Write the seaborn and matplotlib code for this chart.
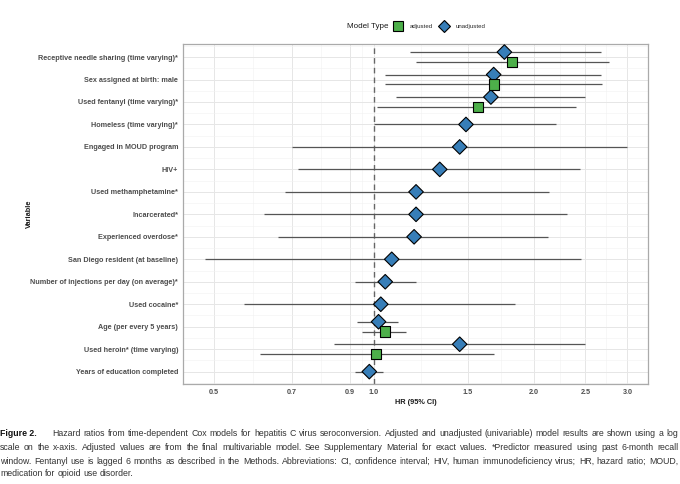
import pandas as pd
import matplotlib.pyplot as plt
import seaborn as sns
import numpy as np
from matplotlib.lines import Line2D

# Variables, top to bottom
variables = [
    "Receptive needle sharing (time varying)*",
    "Sex assigned at birth: male",
    "Used fentanyl (time varying)*",
    "Homeless (time varying)*",
    "Engaged in MOUD program",
    "HIV+",
    "Used methamphetamine*",
    "Incarcerated*",
    "Experienced overdose*",
    "San Diego resident (at baseline)",
    "Number of injections per day (on average)*",
    "Used cocaine*",
    "Age (per every 5 years)",
    "Used heroin* (time varying)",
    "Years of education completed",
]

# Unadjusted (univariable) hazard ratios and 95% CI
unadj_hr = [1.76, 1.68, 1.66, 1.49, 1.45, 1.33, 1.20, 1.20, 1.19, 1.08, 1.05, 1.03, 1.02, 1.45, 0.98]
unadj_lo = [1.17, 1.05, 1.10, 1.00, 0.70, 0.72, 0.68, 0.62, 0.66, 0.48, 0.92, 0.57, 0.93, 0.84, 0.92]
unadj_hi = [2.67, 2.68, 2.50, 2.20, 3.00, 2.44, 2.14, 2.31, 2.13, 2.45, 1.20, 1.84, 1.11, 2.50, 1.04]

# Adjusted (final multivariable model)
adj_vars = [
    "Receptive needle sharing (time varying)*",
    "Sex assigned at birth: male",
    "Used fentanyl (time varying)*",
    "Age (per every 5 years)",
    "Used heroin* (time varying)",
]
adj_hr = [1.82, 1.68, 1.57, 1.05, 1.01]
adj_lo = [1.20, 1.05, 1.015, 0.95, 0.61]
adj_hi = [2.77, 2.69, 2.40, 1.15, 1.68]

x_ticks = [0.5, 0.7, 0.9, 1.0, 1.5, 2.0, 2.5, 3.0]
x_ticklabels = ["0.5", "0.7", "0.9", "1.0", "1.5", "2.0", "2.5", "3.0"]

caption_lines = [
    "Hazard ratios from time-dependent Cox models for hepatitis C virus seroconversion. Adjusted and unadjusted (univariable) model results are shown using a log",
    "scale on the x-axis. Adjusted values are from the final multivariable model. See Supplementary Material for exact values. *Predictor measured using past 6-month recall",
    "window. Fentanyl use is lagged 6 months as described in the Methods. Abbreviations: CI, confidence interval; HIV, human immunodeficiency virus; HR, hazard ratio; MOUD,",
    "medication for opioid use disorder.",
]

# Long table
df = pd.concat([
    pd.DataFrame({"variable": variables, "model": "unadjusted",
                  "hr": unadj_hr, "lo": unadj_lo, "hi": unadj_hi}),
    pd.DataFrame({"variable": adj_vars, "model": "adjusted",
                  "hr": adj_hr, "lo": adj_lo, "hi": adj_hi}),
], ignore_index=True)

# dodge rows that have both models
row = {v: i for i, v in enumerate(variables)}
both = set(adj_vars)
def ypos(r):
    base = row[r["variable"]]
    if r["variable"] not in both:
        return base
    return base - 0.22 if r["model"] == "unadjusted" else base + 0.22
df["y"] = df.apply(ypos, axis=1)

sns.set_style("white")
plt.rcParams["font.family"] = ["Liberation Sans", "DejaVu Sans"]

colors = {"adjusted": "#4DAF4A", "unadjusted": "#377EB8"}
markers = {"adjusted": "s", "unadjusted": "D"}

fig = plt.figure(figsize=(6.8, 4.84), dpi=100)
ax = fig.add_axes([183 / 680, 1 - 384 / 484, 465 / 680, 340 / 484])

# grid
ax.set_xscale("log")
ax.set_xlim(0.437, 3.28)
ax.set_ylim(14.55, -0.58)
minor_x = [np.sqrt(a * b) for a, b in zip(x_ticks[:-1], x_ticks[1:])]
for v in x_ticks:
    ax.axvline(v, color="#E6E6E6", lw=0.7, zorder=0)
for v in minor_x:
    ax.axvline(v, color="#F1F1F1", lw=0.4, zorder=0)
for i in range(len(variables)):
    ax.axhline(i, color="#E6E6E6", lw=0.7, zorder=0)
for i in range(len(variables) + 1):
    ax.axhline(i - 0.5, color="#F1F1F1", lw=0.4, zorder=0)

ax.axvline(1.0, color="#666666", lw=1.0, ls=(0, (4, 3)), zorder=1)

# CI lines
ax.hlines(df["y"], df["lo"], df["hi"], color="#555555", lw=0.9, zorder=2)

# points
sns.scatterplot(data=df, x="hr", y="y", hue="model", style="model",
                palette=colors, markers=markers, s=55,
                edgecolor="black", linewidth=0.8, zorder=3,
                legend=False, ax=ax)

ax.set_xticks(x_ticks)
ax.set_xticklabels(x_ticklabels)
ax.xaxis.set_minor_locator(plt.NullLocator())
ax.set_yticks(range(len(variables)))
ax.set_yticklabels(variables)
ax.tick_params(axis="both", length=2, width=0.6, color="#333333",
               labelsize=5.2, labelcolor="#4D4D4D", pad=1.5)
for lab in ax.get_xticklabels() + ax.get_yticklabels():
    lab.set_fontweight("bold")

ax.set_xlabel("HR (95% CI)", fontsize=5.3, fontweight="bold", color="#1A1A1A", labelpad=2.5)
ax.set_ylabel("Variable", fontsize=5.3, fontweight="bold", color="#1A1A1A")
ax.yaxis.set_label_coords(-(183 - 33) / 465, 0.5)

for s in ax.spines.values():
    s.set_color("#AAAAAA")
    s.set_linewidth(0.9)

# legend on top
yl = 1 - 26 / 484
fig.text(347 / 680, yl, "Model Type", fontsize=5.8, color="#1A1A1A", va="center", ha="left")
handles = [
    Line2D([], [], marker="s", ls="", markersize=6.5, markerfacecolor=colors["adjusted"],
           markeredgecolor="black", markeredgewidth=0.8),
    Line2D([], [], marker="D", ls="", markersize=6.5, markerfacecolor=colors["unadjusted"],
           markeredgecolor="black", markeredgewidth=0.8),
]
fig.legend(handles, ["adjusted", "unadjusted"], loc="center left",
           bbox_to_anchor=(392 / 680, yl), ncol=2, frameon=False, fontsize=4.4,
           handlelength=2.0, handletextpad=0.9, columnspacing=0.8, borderpad=0,
           borderaxespad=0)

# caption: size it so the widest line fits, then justify the full lines
cap_font = ["Liberation Sans Narrow", "DejaVu Sans Condensed", "Liberation Sans", "DejaVu Sans"]
line_y = [434, 447.5, 461, 474]
right_px = 678
cap_size = 6.6
head = fig.text(0, 1 - line_y[0] / 484, "Figure 2.", fontsize=cap_size, fontweight="bold",
                family=cap_font, va="center", ha="left", color="#111111")
fig.canvas.draw()
r = fig.canvas.get_renderer()
head_gap = 16
starts = [head.get_window_extent(r).x1 + head_gap, 0, 0, 0]

probe = [fig.text(s / 680, 0.5, ln, fontsize=cap_size, family=cap_font)
         for s, ln in zip(starts, caption_lines)]
need = max(t.get_window_extent(r).x1 for t in probe)
for t in probe:
    t.remove()
scale = min(1.0, (right_px - 2) / need)
cap_size *= scale
head.set_fontsize(cap_size)
fig.canvas.draw()
starts[0] = head.get_window_extent(r).x1 + head_gap * scale

for i, (ln, yy) in enumerate(zip(caption_lines, line_y)):
    words = ln.split(" ")
    wt = [fig.text(0, 1 - yy / 484, w, fontsize=cap_size, family=cap_font,
                   va="center", ha="left", color="#333333") for w in words]
    widths = [t.get_window_extent(r).width for t in wt]
    space = fig.text(0, 0, "a a", fontsize=cap_size, family=cap_font)
    sp = space.get_window_extent(r).width
    space.remove()
    a = fig.text(0, 0, "aa", fontsize=cap_size, family=cap_font)
    sp -= a.get_window_extent(r).width
    a.remove()
    if i < len(caption_lines) - 1:
        gap = (right_px - starts[i] - sum(widths)) / (len(words) - 1)
    else:
        gap = sp
    x = starts[i]
    for t, w in zip(wt, widths):
        t.set_x(x / 680)
        x += w + gap

fig.savefig("out.png", dpi=100)
